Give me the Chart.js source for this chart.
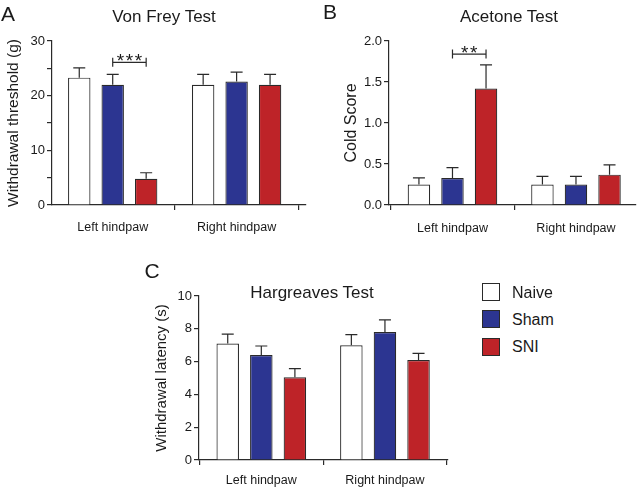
<!DOCTYPE html>
<html>
<head>
<meta charset="utf-8">
<script src="https://cdn.jsdelivr.net/npm/chart.js@4.4.1/dist/chart.umd.min.js"></script>
<style>
  body { margin: 0; background: #fff; }
  #wrap { position: relative; width: 640px; height: 490px; overflow: hidden; font-family: "Liberation Sans", Arial, sans-serif; color: #1a1a1a; }
  canvas { position: absolute; }
  .lbl { position: absolute; line-height: 1; white-space: nowrap; transform: translate(-50%, -50%); }
  .letter { font-size: 21px; }
  .title { font-size: 17px; }
  .key { position: absolute; left: 482px; width: 18px; height: 18px; box-sizing: border-box; border: 1.2px solid #2a2a2a; }
  .keytxt { position: absolute; left: 512px; font-size: 16px; line-height: 1; transform: translateY(-50%); }
</style>
</head>
<body>
<div id="wrap">
  <canvas id="chartA" width="320" height="245" style="left:0;top:0"></canvas>
  <canvas id="chartB" width="302" height="245" style="left:338px;top:0"></canvas>
  <canvas id="chartC" width="305" height="240" style="left:149px;top:250px"></canvas>

  <div class="lbl letter" style="left:8px;top:12.5px">A</div>
  <div class="lbl letter" style="left:330px;top:11px">B</div>
  <div class="lbl letter" style="left:152px;top:270px">C</div>
  <div class="lbl title" style="left:164px;top:15.5px">Von Frey Test</div>
  <div class="lbl title" style="left:509px;top:16px">Acetone Test</div>
  <div class="lbl title" style="left:312px;top:291.5px">Hargreaves Test</div>
  <div id="legend"></div>
</div>
<script>
const groups = ["Left hindpaw", "Right hindpaw"];
const seriesNames = ["Naive", "Sham", "SNI"];
const seriesColors = ["#ffffff", "#2c3591", "#be2328"];

// Von Frey - withdrawal threshold (g), mean + SEM
const vonFreyNaive = [23.3, 22.0];
const vonFreySham = [22.0, 22.6];
const vonFreySni = [4.8, 22.0];
const vonFreyNaiveSem = [1.8, 1.9];
const vonFreyShamSem = [1.9, 1.7];
const vonFreySniSem = [1.1, 1.9];
const vonFreyTickLabels = [0, 10, 20, 30];

// Acetone - cold score
const acetoneNaive = [0.25, 0.25];
const acetoneSham = [0.33, 0.25];
const acetoneSni = [1.42, 0.37];
const acetoneNaiveSem = [0.08, 0.1];
const acetoneShamSem = [0.125, 0.1];
const acetoneSniSem = [0.29, 0.12];
const acetoneTickLabels = [0, 0.5, 1, 1.5, 2];

// Hargreaves - withdrawal latency (s)
const hargNaive = [7.1, 7.0];
const hargSham = [6.4, 7.8];
const hargSni = [5.05, 6.1];
const hargNaiveSem = [0.58, 0.65];
const hargShamSem = [0.55, 0.75];
const hargSniSem = [0.52, 0.4];
const hargTickLabels = [0, 2, 4, 6, 8, 10];

const axisColor = "#2a2a2a";
Chart.defaults.font.family = '"Liberation Sans", Arial, sans-serif';
Chart.defaults.color = "#1a1a1a";

// error bars (upper only) + significance bracket
const errorBars = {
  id: "errorBars",
  afterDatasetsDraw(chart, args, opts) {
    const ctx = chart.ctx;
    const yScale = chart.scales.y;
    ctx.save();
    ctx.strokeStyle = axisColor;
    ctx.lineWidth = 1.2;
    chart.data.datasets.forEach((ds, i) => {
      chart.getDatasetMeta(i).data.forEach((bar, j) => {
        const top = yScale.getPixelForValue(ds.data[j].y + ds.sem[j]);
        ctx.beginPath();
        ctx.moveTo(bar.x, bar.y);
        ctx.lineTo(bar.x, top);
        ctx.moveTo(bar.x - 6, top);
        ctx.lineTo(bar.x + 6, top);
        ctx.stroke();
      });
    });
    const s = opts.sig;
    if (s) {
      const x1 = chart.getDatasetMeta(s.from).data[s.group].x;
      const x2 = chart.getDatasetMeta(s.to).data[s.group].x;
      const y = yScale.getPixelForValue(s.level);
      ctx.beginPath();
      ctx.moveTo(x1, y - 4.5); ctx.lineTo(x1, y + 4.5);
      ctx.moveTo(x1, y); ctx.lineTo(x2, y);
      ctx.moveTo(x2, y - 4.5); ctx.lineTo(x2, y + 4.5);
      ctx.stroke();
      ctx.fillStyle = "#1a1a1a";
      ctx.font = '19px "Liberation Sans", Arial, sans-serif';
      ctx.letterSpacing = "1.5px";
      ctx.textAlign = "center";
      ctx.textBaseline = "alphabetic";
      ctx.fillText(s.text, (x1 + x2) / 2 + 0.75, y + 5);
    }
    ctx.restore();
  }
};

function makePanel(id, cfg) {
  const minor = [];
  for (let v = 0; v <= cfg.yMax + 1e-9; v += cfg.yStep) minor.push(Math.round(v * 1000) / 1000);
  return new Chart(document.getElementById(id), {
    type: "bar",
    data: {
      datasets: cfg.means.map((m, i) => ({
        label: seriesNames[i],
        data: m.map((v, j) => ({ x: j, y: v })),
        sem: cfg.sems[i],
        backgroundColor: seriesColors[i],
        borderColor: axisColor,
        borderWidth: 1.2,
        categoryPercentage: cfg.catPct,
        barPercentage: 0.67,
      })),
    },
    options: {
      responsive: false,
      animation: false,
      layout: { padding: cfg.padding },
      plugins: {
        legend: { display: false },
        tooltip: { enabled: false },
        errorBars: { sig: cfg.sig },
      },
      scales: {
        x: {
          type: "linear",
          offset: false,
          min: cfg.xMin,
          max: cfg.xMax,
          afterBuildTicks: (s) => { s.ticks = groups.map((g, i) => ({ value: i })); },
          afterFit: (s) => { s.height = cfg.xHeight; },
          ticks: {
            callback: (v) => groups[v],
            font: { size: 12.5 },
            padding: cfg.xPad,
            maxRotation: 0,
            autoSkip: false,
          },
          grid: { drawOnChartArea: false, tickLength: 5, color: axisColor, lineWidth: 1.2 },
          border: { color: axisColor, width: 1.2 },
        },
        y: {
          min: 0,
          max: cfg.yMax,
          afterBuildTicks: (s) => { s.ticks = minor.map((v) => ({ value: v })); },
          afterFit: (s) => { s.width = cfg.yWidth; },
          ticks: {
            callback: (v) => (cfg.tickLabels.includes(v) ? cfg.fmt(v) : ""),
            font: { size: 13 },
            padding: 2,
          },
          title: {
            display: true,
            text: cfg.yTitle,
            font: { size: cfg.yTitleSize },
            padding: { top: 4, bottom: 0 },
          },
          grid: { drawOnChartArea: false, tickLength: 5, color: axisColor, lineWidth: 1.2 },
          border: { color: axisColor, width: 1.2 },
        },
      },
    },
    plugins: [errorBars],
  });
}

makePanel("chartA", {
  means: [vonFreyNaive, vonFreySham, vonFreySni],
  sems: [vonFreyNaiveSem, vonFreyShamSem, vonFreySniSem],
  padding: { top: 41, right: 14, left: 0, bottom: 0 },
  xMin: -0.49, xMax: 1.56, xHeight: 40, xPad: 10, catPct: 0.81,
  yMax: 30, yStep: 2.5, yWidth: 52, tickLabels: vonFreyTickLabels, fmt: (v) => String(v),
  yTitle: "Withdrawal threshold (g)", yTitleSize: 15.5,
  sig: { group: 0, from: 1, to: 2, level: 26.1, text: "***" },
});

makePanel("chartB", {
  means: [acetoneNaive, acetoneSham, acetoneSni],
  sems: [acetoneNaiveSem, acetoneShamSem, acetoneSniSem],
  padding: { top: 41, right: 4, left: 0, bottom: 0 },
  xMin: -0.514, xMax: 1.486, xHeight: 40, xPad: 11, catPct: 0.815,
  yMax: 2, yStep: 0.5, yWidth: 51, tickLabels: acetoneTickLabels, fmt: (v) => v.toFixed(1),
  yTitle: "Cold Score", yTitleSize: 16,
  sig: { group: 0, from: 1, to: 2, level: 1.84, text: "**" },
});

makePanel("chartC", {
  means: [hargNaive, hargSham, hargSni],
  sems: [hargNaiveSem, hargShamSem, hargSniSem],
  padding: { top: 46, right: 6, left: 0, bottom: 0 },
  xMin: -0.504, xMax: 1.51, xHeight: 30, xPad: 8, catPct: 0.815,
  yMax: 10, yStep: 1, yWidth: 50, tickLabels: hargTickLabels, fmt: (v) => String(v),
  yTitle: "Withdrawal latency (s)", yTitleSize: 15,
  sig: null,
});

// legend
const legendEl = document.getElementById("legend");
seriesNames.forEach((name, i) => {
  const top = 283 + i * 27.4;
  const box = document.createElement("div");
  box.className = "key";
  box.style.top = top + "px";
  box.style.background = seriesColors[i];
  legendEl.appendChild(box);
  const txt = document.createElement("div");
  txt.className = "keytxt";
  txt.style.top = (top + 9.5) + "px";
  txt.textContent = name;
  legendEl.appendChild(txt);
});
</script>
</body>
</html>
